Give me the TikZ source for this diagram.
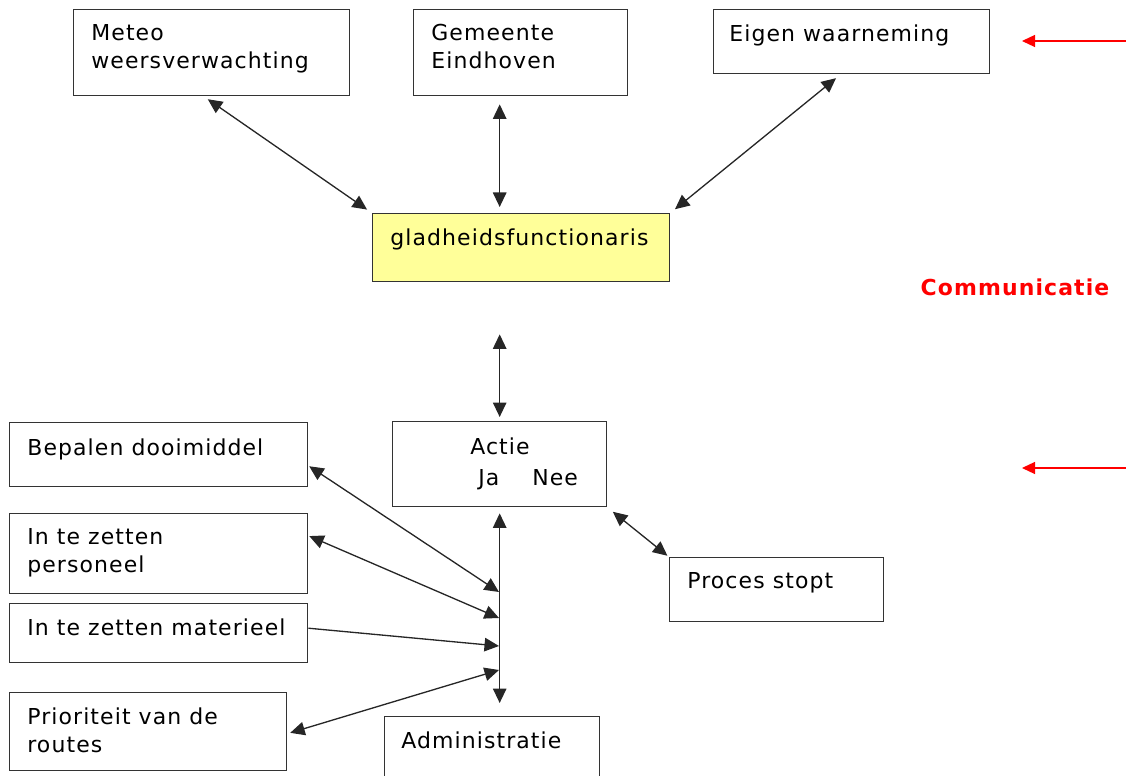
\documentclass[tikz,border=0pt]{standalone}
\usepackage{fontspec}
\setmainfont{DejaVu Sans}[LetterSpace=5]
\usepackage{tikz}
\usetikzlibrary{arrows.meta, positioning}

\definecolor{boxyellow}{HTML}{FFFF99}
\definecolor{boxline}{HTML}{333333}

\begin{document}
\begin{tikzpicture}[x=0.02cm, y=-0.02cm,
      box/.style={rectangle, draw=boxline, line width=0.8pt, anchor=north west, inner sep=0pt},
      txt/.style={inner sep=0pt, align=left, font=\fontsize{12.5}{16}\selectfont},
      arr/.style={{Triangle[length=0.29cm, width=0.27cm]}-{Triangle[length=0.29cm, width=0.27cm]}, line width=0.75pt, black!85},
      onearr/.style={-{Triangle[length=0.29cm, width=0.27cm]}, line width=0.75pt, black!85},
      redarr/.style={-{Triangle[length=0.26cm, width=0.24cm]}, line width=0.7pt, red}]

      \clip (0,0) rectangle (1126,776);

      % Blocks
      \node[box, minimum width=5.52cm, minimum height=1.72cm] (meteo) at (73,9) {};
      \node[box, minimum width=4.28cm, minimum height=1.72cm] (gemeente) at (413,9) {};
      \node[box, minimum width=5.52cm, minimum height=1.28cm] (eigen) at (713,9) {};
      \node[box, fill=boxyellow, minimum width=5.94cm, minimum height=1.36cm] (glad) at (372,213) {};
      \node[box, minimum width=4.28cm, minimum height=1.70cm] (actie) at (392,421) {};
      \node[box, minimum width=5.96cm, minimum height=1.28cm] (bepalen) at (9,422) {};
      \node[box, minimum width=5.96cm, minimum height=1.60cm] (personeel) at (9,513) {};
      \node[box, minimum width=5.96cm, minimum height=1.18cm] (materieel) at (9,603) {};
      \node[box, minimum width=5.54cm, minimum height=1.56cm] (prioriteit) at (9,692) {};
      \node[box, minimum width=4.30cm, minimum height=1.60cm] (admin) at (384,716) {};
      \node[box, minimum width=4.28cm, minimum height=1.28cm] (proces) at (669,557) {};

      % Texts
      \node[txt, below right=0.3cm and 0.36cm of meteo.north west] (meteo-t) {Meteo\\weersverwachting};
      \node[txt, below right=0.3cm and 0.36cm of gemeente.north west] (gemeente-t) {Gemeente\\Eindhoven};
      \node[txt, below right=0.3cm and 0.32cm of eigen.north west] (eigen-t) {Eigen waarneming};
      \node[txt, below right=0.3cm and 0.36cm of glad.north west] (glad-t) {gladheidsfunctionaris};
      \node[txt, below right=0.32cm and 1.56cm of actie.north west] (actie-t) {Actie\\[2pt]\hspace*{0.16cm}Ja\hspace{0.66cm}Nee};
      \node[txt, below right=0.32cm and 0.36cm of bepalen.north west] (bepalen-t) {Bepalen dooimiddel};
      \node[txt, below right=0.3cm and 0.36cm of personeel.north west] (personeel-t) {In te zetten\\personeel};
      \node[txt, below right=0.3cm and 0.36cm of materieel.north west] (materieel-t) {In te zetten materieel};
      \node[txt, below right=0.3cm and 0.36cm of prioriteit.north west] (prioriteit-t) {Prioriteit van de\\routes};
      \node[txt, below right=0.3cm and 0.34cm of admin.north west] (admin-t) {Administratie};
      \node[txt, below right=0.3cm and 0.36cm of proces.north west] (proces-t) {Proces stopt};
      \node[txt, font=\fontsize{12.5}{14}\selectfont\bfseries, text=red] (comm) at (1015,287) {Communicatie};

      % Points on the vertical line
      \coordinate (t1) at (499,592);
      \coordinate (t2) at (499,618);
      \coordinate (t3) at (499,646);
      \coordinate (t4) at (499,670);

      % Arrows
      \draw[arr, shorten <=0.1cm, shorten >=0.12cm] ([xshift=-0.16cm]meteo.south) -- (glad.north west);
      \draw[arr, shorten <=0.16cm, shorten >=0.12cm] (gemeente.south -| actie.north) -- (glad.north -| actie.north);
      \draw[arr, shorten <=0.12cm, shorten >=0.12cm] ([xshift=-0.22cm]eigen.south) -- (glad.north east);
      \draw[arr, shorten <=1.04cm, shorten >=0.08cm] (glad.south -| actie.north) -- (actie.north);
      \draw[arr, shorten <=0.12cm, shorten >=0.26cm] (actie.south) -- (actie.south |- admin.north);
      \draw[arr, shorten <=0.14cm, shorten >=0.04cm] (actie.south east) -- (proces.north west);

      \draw[arr, shorten <=0.02cm] ([yshift=-0.22cm]bepalen.east) -- (t1);
      \draw[arr, shorten <=0.02cm] ([yshift=0.36cm]personeel.east) -- (t2);
      \draw[onearr] ([yshift=0.1cm]materieel.east) -- (t3);
      \draw[arr, shorten <=0.06cm] ([yshift=-0.04cm]prioriteit.east) -- (t4);

      % Red markers
      \foreach \y/\n in {41/1, 468/2} {
        \coordinate (mark\n-s) at (1126,\y);
        \coordinate (mark\n-e) at (1022,\y);
        \draw[redarr] (mark\n-s) -- (mark\n-e);
      }
    \end{tikzpicture}
\end{document}
